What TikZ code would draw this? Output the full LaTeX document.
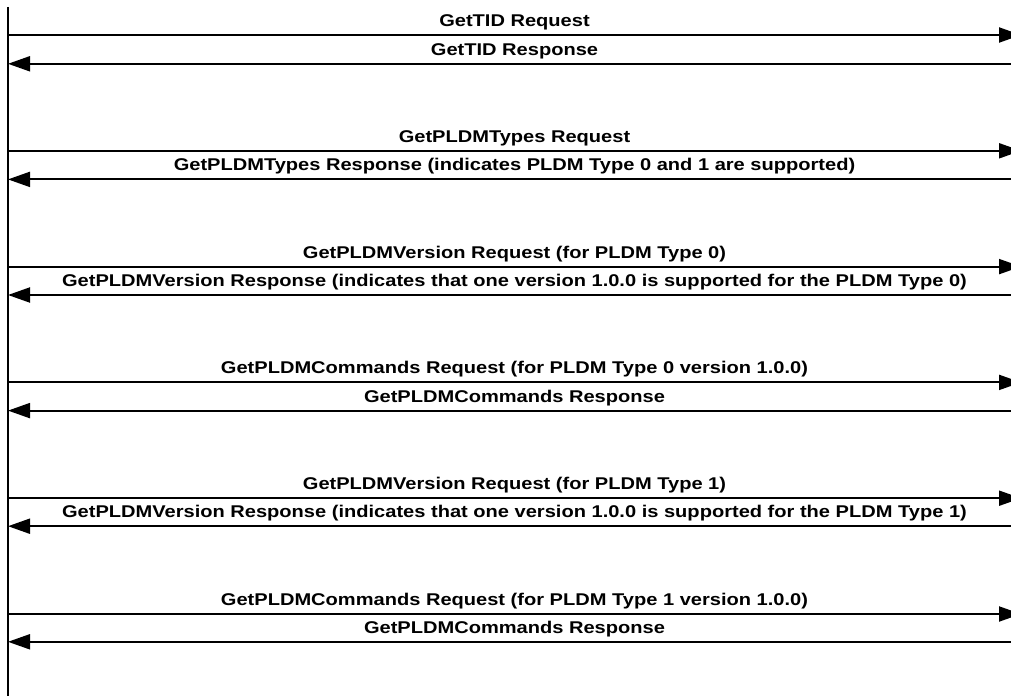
\documentclass[tikz,border=0pt]{standalone}
\usepackage{fontspec}
\setmainfont{Liberation Sans}[FakeStretch=1.18]
\usepackage{tikz}
\usetikzlibrary{arrows.meta}

\begin{document}
\begin{tikzpicture}[
    x=1pt, y=-1pt,
    lifeline/.style={line width=1.3pt, black},
    msg/.style={line width=2pt, black, -{Triangle[length=22pt, width=15pt]}},
    lbl/.style={anchor=base, yshift=8.5pt, inner sep=0pt, font=\fontsize{17}{20}\selectfont\bfseries}
  ]
    \clip (0,0) rectangle (1011,698);
    % requester lifeline (the responder sits just past the right edge)
    \coordinate (top) at (8,7);
    \coordinate (bot) at (8,696);
    \draw[lifeline] (top) -- (bot);
    \foreach \reqtxt/\rsptxt [count=\k from 0] in {
        GetTID Request/GetTID Response,
        GetPLDMTypes Request/GetPLDMTypes Response (indicates PLDM Type 0 and 1 are supported),
        GetPLDMVersion Request (for PLDM Type 0)/GetPLDMVersion Response (indicates that one version 1.0.0 is supported for the PLDM Type 0),
        GetPLDMCommands Request (for PLDM Type 0 version 1.0.0)/GetPLDMCommands Response,
        GetPLDMVersion Request (for PLDM Type 1)/GetPLDMVersion Response (indicates that one version 1.0.0 is supported for the PLDM Type 1),
        GetPLDMCommands Request (for PLDM Type 1 version 1.0.0)/GetPLDMCommands Response}
    {
      \coordinate (req\k-l) at (8, 35+115.8*\k);
      \coordinate (req\k-r) at (1021, 35+115.8*\k);
      \coordinate (rsp\k-l) at (8, 63.8+115.6*\k);
      \coordinate (rsp\k-r) at (1021, 63.8+115.6*\k);
      \draw[msg] (req\k-l) -- (req\k-r) node[lbl, midway] (reqlbl\k) {\reqtxt};
      \draw[msg] (rsp\k-r) -- (rsp\k-l) node[lbl, midway] (rsplbl\k) {\rsptxt};
    }
\end{tikzpicture}
\end{document}
